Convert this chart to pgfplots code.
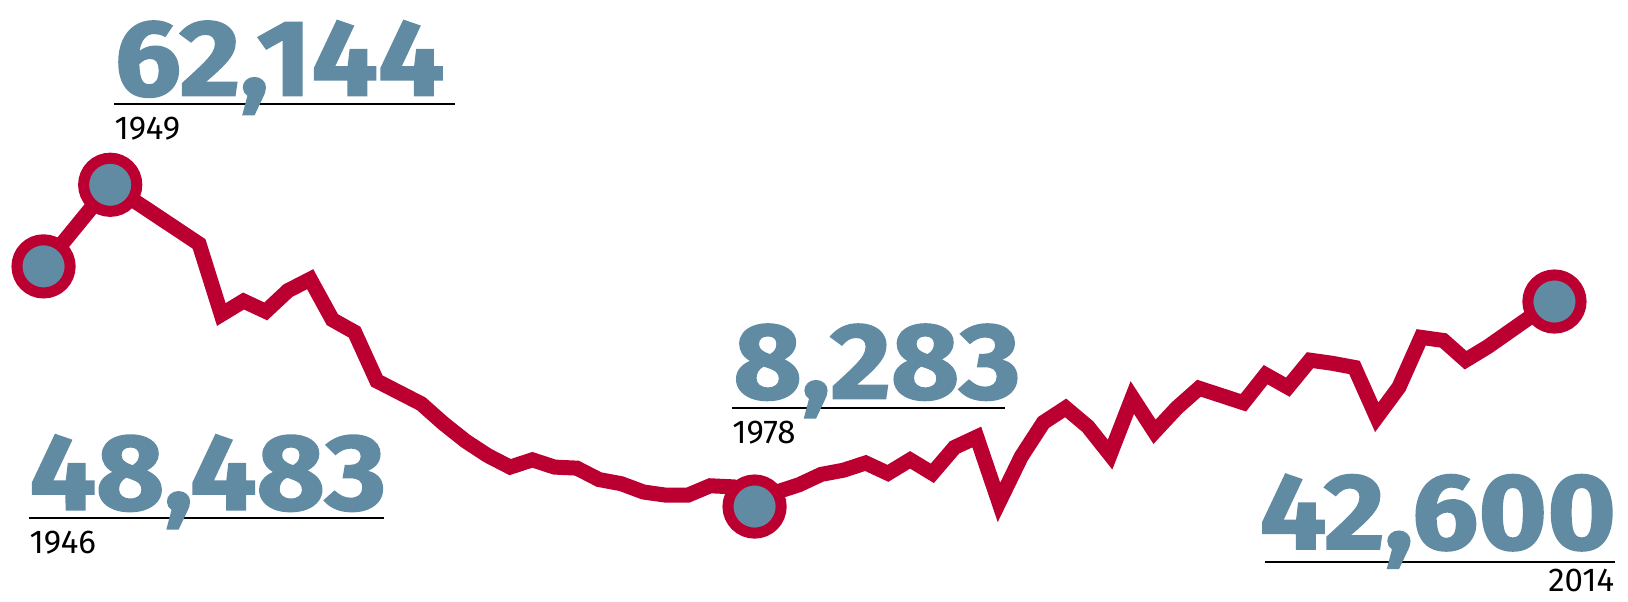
\documentclass[border=0pt]{standalone}
\usepackage{pgfplots}
\pgfplotsset{compat=1.18}
\usepackage{fontspec}
\setmainfont{Fira Sans}
\newfontfamily\bignum[BoldFeatures={FakeBold=1.6}]{Fira Sans}
\definecolor{lred}{RGB}{187,0,49}
\definecolor{lblue}{RGB}{96,139,163}
\newcommand{\bn}[1]{\scalebox{1.09}[1]{\bignum\bfseries #1}}
\begin{document}
\begin{tikzpicture}
\begin{axis}[name=ax, width=814pt, height=300.5pt, scale only axis,
  xmin=1944.04, xmax=2017.31, ymin=-7528, ymax=93073,
  hide axis, clip=false]
% labels (drawn first)
\draw[line width=1pt] (rel axis cs:0.0702,0.8273) -- (rel axis cs:0.2793,0.8273);
\draw[line width=1pt] (rel axis cs:0.0179,0.1382) -- (rel axis cs:0.2360,0.1382);
\draw[line width=1pt] (rel axis cs:0.4496,0.3212) -- (rel axis cs:0.6173,0.3212);
\draw[line width=1pt] (rel axis cs:0.7768,0.0656) -- (rel axis cs:0.9917,0.0656);
\node[anchor=base west, inner sep=0, text=lblue, font=\fontsize{54}{54}\selectfont] at (rel axis cs:0.0702,0.8411) {\bn{62,144}};
\node[anchor=base west, inner sep=0, text=lblue, font=\fontsize{54}{54}\selectfont] at (rel axis cs:0.0179,0.1520) {\bn{48,483}};
\node[anchor=base west, inner sep=0, text=lblue, font=\fontsize{54}{54}\selectfont] at (rel axis cs:0.4503,0.3368) {\bn{8,283}};
\node[anchor=base west, inner sep=0, text=lblue, font=\fontsize{54}{54}\selectfont] at (rel axis cs:0.7736,0.0864) {\bn{42,600}};
\node[anchor=base west, inner sep=0, font=\fontsize{16.5}{16.5}\selectfont] at (rel axis cs:0.0702,0.7686) {1949};
\node[anchor=base west, inner sep=0, font=\fontsize{16.5}{16.5}\selectfont] at (rel axis cs:0.0179,0.0794) {1946};
\node[anchor=base west, inner sep=0, font=\fontsize{16.5}{16.5}\selectfont] at (rel axis cs:0.4496,0.2625) {1978};
\node[anchor=base east, inner sep=0, font=\fontsize{16.5}{16.5}\selectfont] at (rel axis cs:0.9917,0.0155) {2014};
\addplot[lred, line width=7.5pt, line join=miter] table {
1946 48483
1949 62144
1953 52242
1954 40427
1955 42686
1956 40948
1957 44423
1958 46334
1959 39558
1960 37473
1961 29307
1962 27396
1963 25484
1964 22183
1965 19229
1966 16797
1967 14886
1968 16102
1969 14886
1970 14712
1971 12801
1972 12106
1973 10716
1974 10194
1975 10194
1976 11758
1977 11584
1978 8283
1979 10716
1980 11932
1981 13669
1982 14364
1983 15581
1984 13843
1985 16102
1986 13843
1987 18187
1988 19924
1989 8978
1990 16623
1991 22357
1992 24789
1993 21662
1994 16971
1995 26527
1996 20793
1997 24789
1998 28091
1999 26874
2000 25658
2001 30349
2002 28264
2003 32782
2004 32261
2005 31566
2006 23226
2007 28264
2008 36604
2009 36083
2010 32782
2011 35041
2012 37647
2013 40253
2014 42600
};
\addplot[only marks, mark=*, mark size=13.3pt,
  mark options={fill=lblue, draw=lred, line width=5.5pt}] table {
1946 48483
1949 62144
1978 8283
2014 42600
};
\end{axis}
\pgfresetboundingbox
\path[use as bounding box] (ax.south west) rectangle (ax.north east);
\end{tikzpicture}
\end{document}
